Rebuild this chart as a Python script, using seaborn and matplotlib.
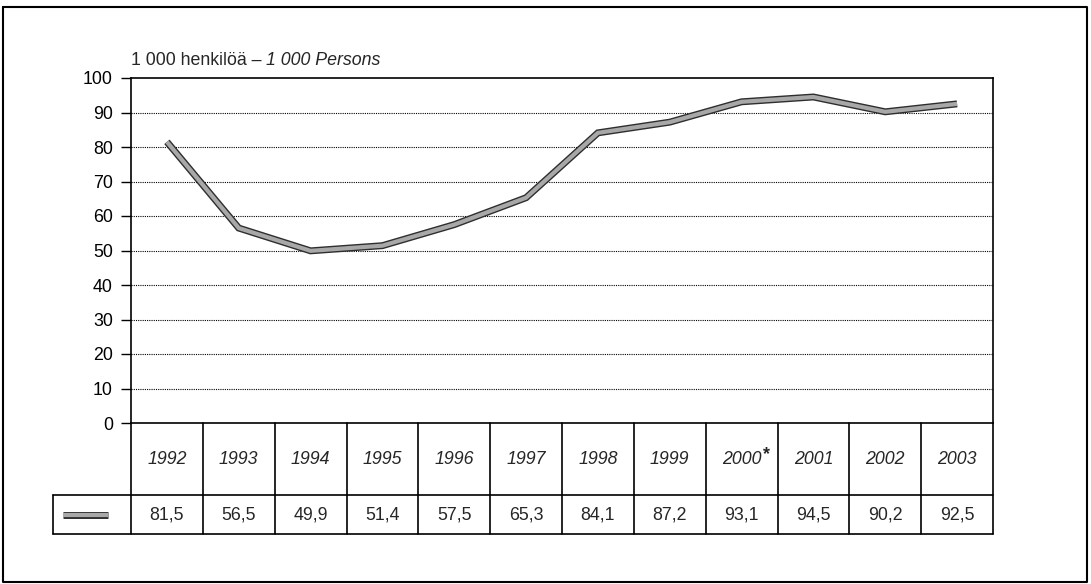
import numpy as np
import pandas as pd
import matplotlib
matplotlib.use("Agg")
import matplotlib.pyplot as plt
import matplotlib.patheffects as pe
import seaborn as sns

# Data
years = ["1992", "1993", "1994", "1995", "1996", "1997",
         "1998", "1999", "2000*", "2001", "2002", "2003"]
persons = [81.5, 56.5, 49.9, 51.4, 57.5, 65.3, 84.1, 87.2, 93.1, 94.5, 90.2, 92.5]
value_labels = ["81,5", "56,5", "49,9", "51,4", "57,5", "65,3",
                "84,1", "87,2", "93,1", "94,5", "90,2", "92,5"]

df = pd.DataFrame({"pos": np.arange(len(years)) + 0.5, "value": persons})

sns.set_theme(style="white")
plt.rcParams["font.family"] = ["Liberation Sans", "DejaVu Sans"]

W, H = 1091, 584
fig = plt.figure(figsize=(W / 100, H / 100), dpi=100)

# pixel layout
x0, x1 = 131, 993
y_top, y_bot = 78, 423
row1, row2 = 495, 534
key_left = 53
fs = 12.8

# overlay axes in pixel coordinates for frame + table
ov = fig.add_axes([0, 0, 1, 1], zorder=0)
ov.set_xlim(0, W)
ov.set_ylim(H, 0)
ov.axis("off")

ax = fig.add_axes([x0 / W, (H - y_bot) / H, (x1 - x0) / W, (y_bot - y_top) / H], zorder=2)
ax.set_facecolor("none")

line_fx = [pe.Stroke(linewidth=5, foreground="#2e2e2e"), pe.Normal()]
sns.lineplot(data=df, x="pos", y="value", ax=ax, color="#a8a8a8", linewidth=3,
             path_effects=line_fx)
for ln in ax.get_lines():
    ln.set_solid_capstyle("butt")
    ln.set_solid_joinstyle("miter")

ax.set_xlim(0, len(years))
ax.set_ylim(0, 100)
ax.set_yticks(np.arange(0, 101, 10))
ax.set_xticks([])
ax.set_xlabel("")
ax.set_ylabel("")
ax.tick_params(axis="y", direction="out", length=7, width=1, color="black",
               labelsize=fs, pad=6, left=True)
for t in ax.get_yticklabels():
    t.set_color("black")
for y in range(10, 100, 10):
    ax.axhline(y, color="black", linestyle=(0, (1, 1)), linewidth=0.8, zorder=0)
for s in ["left", "top", "right", "bottom"]:
    ax.spines[s].set_visible(True)
    ax.spines[s].set_color("black")
    ax.spines[s].set_linewidth(1.2)

# title
t1 = ov.text(x0, 65, "1 000 henkilöä – ", fontsize=fs, ha="left", va="baseline")
ov.annotate("1 000 Persons", xy=(1, 0), xycoords=t1, va="bottom", ha="left",
            fontsize=fs, style="italic")

# table
n = len(years)
cw = (x1 - x0) / n
lk = dict(color="black", linewidth=1.2)
ov.plot([key_left, x1], [row1, row1], **lk)
ov.plot([key_left, x1], [row2, row2], **lk)
ov.plot([key_left, key_left], [row1, row2], **lk)
for k in range(n + 1):
    xv = x0 + k * cw
    ov.plot([xv, xv], [y_bot, row2], **lk)
for i in range(n):
    xc = x0 + (i + 0.5) * cw
    label = years[i]
    star = label.endswith("*")
    yt = ov.text(xc, (y_bot + row1) / 2 + 1, label.rstrip("*"), fontsize=fs,
                 style="italic", ha="center", va="center")
    if star:
        ov.annotate("*", xy=(1, 1), xycoords=yt, ha="left", va="top",
                    xytext=(1, 4), textcoords="offset points",
                    fontsize=fs, fontweight="bold")
    ov.text(xc, (row1 + row2) / 2 + 1, value_labels[i], fontsize=fs,
            ha="center", va="center")

# legend key
ov.plot([63, 108], [515, 515], color="#a8a8a8", linewidth=3, solid_capstyle="butt",
        path_effects=line_fx)

# outer border
ov.plot([3, 1087, 1087, 3, 3], [7, 7, 582, 582, 7], color="black", linewidth=1.5)

fig.savefig("out.png", dpi=100)
